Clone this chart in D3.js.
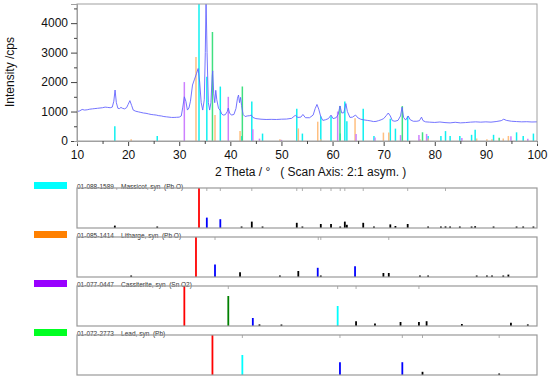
<!DOCTYPE html>
<html>
<head>
<meta charset="utf-8">
<script src="https://cdn.jsdelivr.net/npm/d3@7"></script>
<style>
  body { margin: 0; background: #fff; }
  text { font-family: "Liberation Sans", Arial, sans-serif; }
</style>
</head>
<body>
<svg id="chart"></svg>
<script>
const width = 550;
const height = 380;

// measured scan: [2theta, cps]
const scanPoints = [
  [10.0, 1000], [10.5, 1020], [11.0, 1070], [11.5, 1050], [12.0, 1060], [12.5, 1080],
  [13.0, 1090], [13.5, 1100], [14.0, 1110], [14.5, 1120], [15.0, 1130], [15.5, 1150],
  [16.0, 1140], [16.5, 1130], [16.9, 1150], [17.2, 1350], [17.45, 1730], [17.7, 1300],
  [18.0, 1110], [18.3, 1100], [18.6, 1140], [18.9, 1110], [19.3, 1090], [19.7, 1130],
  [20.0, 1240], [20.35, 1370], [20.7, 1200], [21.0, 1050], [21.5, 1010], [22.0, 990],
  [22.5, 970], [23.0, 950], [23.5, 940], [24.0, 920], [24.5, 900], [25.0, 890],
  [25.5, 880], [26.0, 860], [26.5, 850], [27.0, 830], [27.5, 820], [28.0, 810],
  [28.5, 800], [29.0, 800], [29.5, 805], [30.0, 810], [30.4, 850], [30.7, 1150],
  [31.0, 1500], [31.3, 1350], [31.6, 1050], [31.9, 1120], [32.2, 1350], [32.6, 1900],
  [33.0, 2100], [33.4, 2300], [33.7, 2460], [34.0, 2000], [34.3, 1300], [34.6, 1050],
  [34.9, 1400], [35.1, 3000], [35.25, 4800], [35.45, 3000], [35.7, 1300], [35.95, 1050],
  [36.2, 1300], [36.45, 2200], [36.55, 2380], [36.75, 1600], [36.95, 1300], [37.15, 1720],
  [37.35, 1400], [37.7, 1100], [38.0, 1050], [38.3, 920], [38.6, 880], [39.0, 890],
  [39.4, 1000], [39.6, 1120], [39.85, 950], [40.2, 880], [40.7, 900], [41.1, 1100],
  [41.4, 1450], [41.6, 1560], [41.8, 1300], [42.0, 1480], [42.2, 1200], [42.5, 900],
  [42.9, 830], [43.3, 850], [43.8, 860], [44.1, 880], [44.4, 800], [45.0, 760],
  [46.0, 740], [47.0, 730], [48.0, 735], [49.0, 730], [50.0, 740], [51.0, 745],
  [52.0, 770], [52.7, 870], [53.2, 800], [53.8, 810], [54.2, 900], [54.7, 790],
  [55.5, 790], [56.2, 880], [56.6, 1100], [56.95, 1240], [57.3, 1080], [57.7, 820],
  [58.1, 700], [58.6, 720], [59.2, 760], [59.7, 880], [60.1, 760], [60.7, 790],
  [61.1, 900], [61.45, 1190], [61.8, 950], [62.2, 960], [62.6, 1270], [62.9, 1000],
  [63.4, 800], [63.9, 810], [64.5, 880], [65.0, 780], [65.5, 740], [66.0, 720],
  [66.8, 700], [67.5, 680], [68.0, 660], [68.5, 665], [69.0, 690], [69.5, 720],
  [70.0, 760], [70.5, 860], [70.9, 950], [71.3, 850], [71.7, 690], [72.2, 670],
  [72.8, 700], [73.3, 850], [73.6, 1150], [73.9, 800], [74.3, 710], [74.8, 850],
  [75.2, 720], [75.8, 670], [76.5, 670], [77.0, 690], [77.4, 810], [77.7, 690],
  [78.2, 650], [79.0, 640], [80.0, 630], [81.0, 645], [82.0, 625], [83.0, 615],
  [84.0, 635], [85.0, 615], [86.0, 625], [87.0, 640], [88.0, 650], [89.0, 640],
  [90.0, 650], [91.0, 640], [92.0, 660], [93.0, 690], [93.5, 740], [94.0, 700],
  [95.0, 670], [96.0, 660], [97.0, 650], [98.0, 655], [99.0, 645], [100.0, 650]
];

// reference patterns: [2theta, relative intensity %]
const massicotLines = [
  [17.4, 6], [25.7, 2], [33.87, 100], [35.4, 26], [38.04, 22], [42.2, 2], [44.2, 16],
  [46.3, 3], [53.0, 13], [54.1, 3], [57.7, 10], [59.7, 10], [61.5, 3], [62.4, 16],
  [62.8, 8], [66.0, 13], [68.1, 2], [71.3, 9], [72.3, 5], [74.7, 10], [78.7, 2],
  [81.2, 2], [82.1, 4], [83.0, 2], [84.9, 2], [87.2, 2.5], [87.9, 4.5], [91.5, 2.5],
  [96.0, 3.5], [97.3, 2], [99.3, 3]
];
const lithargeLines = [
  [20.6, 2], [33.28, 100], [37.0, 31], [41.9, 12], [49.7, 2], [53.3, 15], [57.1, 23],
  [57.7, 2], [64.4, 27], [69.95, 10], [71.0, 10], [77.1, 2], [78.7, 3], [88.2, 3],
  [90.2, 2], [91.2, 2], [93.4, 3], [94.4, 6]
];
const cassiteriteLines = [
  [31.0, 100], [39.6, 75], [44.4, 20], [45.7, 4], [50.0, 2], [61.0, 50], [64.6, 12],
  [68.3, 6], [73.3, 10], [76.9, 10], [78.4, 12], [85.3, 5], [94.9, 8], [98.2, 4]
];
const leadLines = [
  [36.5, 100], [42.35, 50], [61.45, 32], [73.65, 32], [77.6, 8], [92.6, 3]
];

// marker ticks on top edge of each reference panel
const massicotMarks = [35.4, 38.04, 44.2, 53.0, 54.1, 57.7, 59.7, 61.5, 62.4, 66.0, 74.7, 82.1];
const lithargeMarks = [37.0, 57.2, 57.7, 71.0];
const cassiteriteMarks = [39.6, 61.0, 64.6, 76.9];
const leadMarks = [42.35, 61.45, 73.65, 77.6, 92.6];

// cps of the 100% line in the main plot
const phaseScale = [8400, 2850, 2000, 3700];
const phaseNames = [
  "01-088-1589 ,  Massicot, syn  (Pb O)",
  "01-085-1414    Litharge, syn  (Pb O)",
  "01-077-0447    Cassiterite, syn  (Sn O2)",
  "01-072-2773    Lead, syn  (Pb)"
];

const xTicks = [10, 20, 30, 40, 50, 60, 70, 80, 90, 100];
const xMinor = [15, 25, 35, 45, 55, 65, 75, 85, 95];
const yTicks = [0, 1000, 2000, 3000, 4000];
const yMinor = [500, 1500, 2500, 3500, 4500];

const phases = [
  { lines: massicotLines, marks: massicotMarks, swatch: "#00ffff", stick: "#10f0f0" },
  { lines: lithargeLines, marks: lithargeMarks, swatch: "#ff8000", stick: "#ffbf80" },
  { lines: cassiteriteLines, marks: cassiteriteMarks, swatch: "#9900ff", stick: "#cc80ff" },
  { lines: leadLines, marks: leadMarks, swatch: "#00ff22", stick: "#40e080" }
];
phases.forEach((p, i) => { p.scale = phaseScale[i]; p.name = phaseNames[i]; });

const svg = d3.select('#chart')
  .attr('width', width)
  .attr('height', height);

const plot = { left: 77, right: 537, top: 4, bottom: 141 };

const x = d3.scaleLinear().domain([10, 100]).range([plot.left, plot.right]);
const y = d3.scaleLinear().domain([0, 4650]).range([plot.bottom, plot.top]);

svg.append("clipPath").attr("id", "clip")
  .append("rect")
  .attr("x", plot.left).attr("y", plot.top)
  .attr("width", plot.right - plot.left).attr("height", plot.bottom - plot.top);

const main = svg.append("g").attr("clip-path", "url(#clip)");

// reference sticks in main plot
phases.forEach(p => {
  main.selectAll(null)
    .data(p.lines).join("line")
    .attr("x1", d => x(d[0])).attr("x2", d => x(d[0]))
    .attr("y1", y(0))
    .attr("y2", d => y(p.scale * d[1] / 100))
    .attr("stroke", p.stick)
    .attr("stroke-width", 1.5);
});

// measured curve
main.append("path")
  .datum(scanPoints)
  .attr("d", d3.line().x(d => x(d[0])).y(d => y(d[1])))
  .attr("fill", "none")
  .attr("stroke", "#6464ff")
  .attr("stroke-width", 0.9);

// frame
svg.append("rect")
  .attr("x", plot.left).attr("y", plot.top)
  .attr("width", plot.right - plot.left).attr("height", plot.bottom - plot.top)
  .attr("fill", "none").attr("stroke", "#a0a0a0");

// axes
svg.append("g")
  .attr("transform", `translate(0,${plot.bottom})`)
  .call(d3.axisBottom(x).tickValues(xTicks).tickSize(5).tickPadding(4).tickFormat(d3.format("d")));
svg.append("g")
  .attr("transform", `translate(0,${plot.bottom})`)
  .call(d3.axisBottom(x).tickValues(xMinor).tickSize(3).tickFormat(""));
svg.append("g")
  .attr("transform", `translate(${plot.left},0)`)
  .call(d3.axisLeft(y).tickValues(yTicks).tickSize(6).tickPadding(3).tickFormat(d3.format("d")));
svg.append("g")
  .attr("transform", `translate(${plot.left},0)`)
  .call(d3.axisLeft(y).tickValues(yMinor).tickSize(3).tickFormat(""));

svg.selectAll(".domain").attr("stroke", "#a0a0a0");
svg.selectAll(".tick line").attr("stroke", "#444");
svg.selectAll(".tick text").attr("font-size", "12px").attr("fill", "#111")
  .attr("font-family", "Liberation Sans, Arial, sans-serif");

svg.append("text")
  .attr("transform", "translate(14,72) rotate(-90)")
  .attr("text-anchor", "middle")
  .attr("font-size", "12px")
  .attr("fill", "#111")
  .text("Intensity /cps");

svg.append("text")
  .attr("x", 215).attr("y", 176)
  .attr("font-size", "12px")
  .attr("fill", "#111")
  .style("white-space", "pre")
  .text("2 Theta / °   ( Scan Axis: 2:1 asym. )");

// reference panels
const panelTop = [188, 237, 286, 335];
const panelH = 40;

function stickColor(v) {
  if (v >= 90) return "#ff0000";
  if (v >= 60) return "#008000";
  if (v >= 40) return "#00ffff";
  if (v >= 18) return "#0000ff";
  return "#000000";
}

phases.forEach((p, i) => {
  const top = panelTop[i];
  const py = d3.scaleLinear().domain([0, 100]).range([top + panelH, top]);
  const g = svg.append("g");

  g.append("rect")
    .attr("x", 34).attr("y", top - 6)
    .attr("width", 33).attr("height", 7)
    .attr("fill", p.swatch);

  g.selectAll(null)
    .data(p.lines).join("line")
    .attr("x1", d => x(d[0])).attr("x2", d => x(d[0]))
    .attr("y1", py(0))
    .attr("y2", d => Math.min(py(d[1]), py(0) - 1.5))
    .attr("stroke", d => stickColor(d[1]))
    .attr("stroke-width", 1.8);

  g.selectAll(null)
    .data(p.marks).join("line")
    .attr("x1", d => x(d)).attr("x2", d => x(d))
    .attr("y1", top).attr("y2", top + 3)
    .attr("stroke", "#999")
    .attr("stroke-width", 0.8);

  g.append("text")
    .attr("x", plot.left).attr("y", top + 1)
    .attr("font-size", "6.5px")
    .attr("fill", "#333")
    .style("white-space", "pre")
    .text(p.name);

  g.append("rect")
    .attr("x", plot.left).attr("y", top)
    .attr("width", plot.right - plot.left).attr("height", panelH)
    .attr("fill", "none")
    .attr("stroke", "#999")
    .attr("stroke-width", 1.2);
});
</script>
</body>
</html>
